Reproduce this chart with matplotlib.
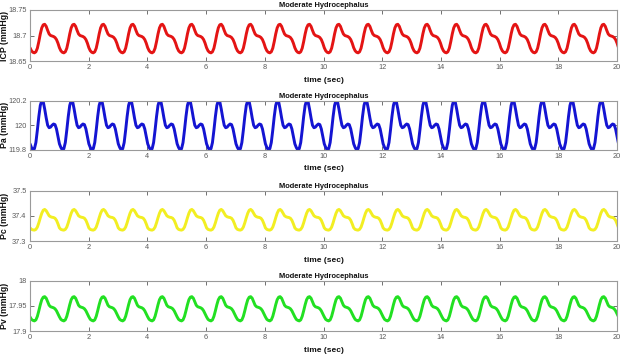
import numpy as np
import matplotlib
matplotlib.use("Agg")
import matplotlib.pyplot as plt

plt.rcParams["font.family"] = ["Liberation Sans", "DejaVu Sans"]

# One cardiac cycle (phase step 0.05 of a cycle)
period = 1.0026          # seconds per cycle
n_cycles = 21
icp_cycle = [18.676, 18.670, 18.667, 18.666, 18.668, 18.675, 18.688, 18.703, 18.715, 18.721,
             18.722, 18.718, 18.710, 18.703, 18.700, 18.699, 18.698, 18.696, 18.692, 18.685]
pa_cycle = [119.85, 119.82, 119.80, 119.81, 119.86, 119.96, 120.07, 120.16, 120.20, 120.19,
            120.13, 120.06, 120.00, 119.98, 119.985, 120.00, 120.01, 120.005, 119.97, 119.91]
pc_cycle = [37.352, 37.346, 37.344, 37.343, 37.346, 37.355, 37.372, 37.392, 37.410, 37.422,
            37.425, 37.420, 37.410, 37.400, 37.396, 37.394, 37.393, 37.390, 37.382, 37.368]
pv_cycle = [17.928, 17.923, 17.921, 17.920, 17.922, 17.929, 17.940, 17.952, 17.962, 17.967,
            17.968, 17.965, 17.958, 17.951, 17.948, 17.947, 17.946, 17.944, 17.940, 17.934]

ylabels = ["ICP (mmHg)", "Pa (mmHg)", "Pc (mmHg)", "Pv (mmHg)"]
titles = ["Moderate Hydrocephalus"] * 4
ylims = [(18.65, 18.75), (119.8, 120.2), (37.3, 37.5), (17.9, 18.0)]
yticks = [[18.65, 18.7, 18.75], [119.8, 120, 120.2], [37.3, 37.4, 37.5], [17.9, 17.95, 18]]
yticklabels = [["18.65", "18.7", "18.75"], ["119.8", "120", "120.2"],
               ["37.3", "37.4", "37.5"], ["17.9", "17.95", "18"]]
xticks = [0, 2, 4, 6, 8, 10, 12, 14, 16, 18, 20]
colors = ["#e41414", "#1414d2", "#f2ee22", "#22e022"]
cycles = [icp_cycle, pa_cycle, pc_cycle, pv_cycle]

fig = plt.figure(figsize=(6.22, 3.59), dpi=100)
W, H = 622, 359
left_px, right_px = 30, 617
tops = [10, 100.5, 190.5, 280.5]
bottoms = [61, 150, 241, 331]
axw = right_px - left_px

for i in range(4):
    ax = fig.add_axes([left_px / W, 1 - bottoms[i] / H, axw / W,
                       (bottoms[i] - tops[i]) / H])
    vals = np.tile(np.array(cycles[i]), n_cycles)
    n = len(cycles[i])
    t = np.arange(len(vals)) * period / n
    ax.plot(t, vals, color=colors[i], lw=2.1, solid_capstyle="round")
    ax.set_xlim(0, 20)
    ax.set_ylim(*ylims[i])
    ax.set_xticks(xticks)
    ax.set_xticklabels([str(x) for x in xticks])
    ax.set_yticks(yticks[i])
    ax.set_yticklabels(yticklabels[i])
    ax.tick_params(direction="in", top=True, right=True, length=3, width=0.6,
                   labelsize=5.3, colors="#5a5a5a", pad=2.5)
    for s in ax.spines.values():
        s.set_color("#9a9a9a")
        s.set_linewidth(0.8)
    ax.set_title(titles[i], fontsize=5.4, fontweight="bold", pad=2, color="#111111")
    ax.set_ylabel(ylabels[i], fontsize=6.3, fontweight="bold", color="#111111")
    ax.yaxis.set_label_coords(-20.5 / axw, 0.5)
    ax.set_xlabel("time (sec)", fontsize=6.0, fontweight="bold", color="#111111")
    ax.xaxis.set_label_coords(0.5, -0.31)

fig.savefig("out.png", dpi=100)
